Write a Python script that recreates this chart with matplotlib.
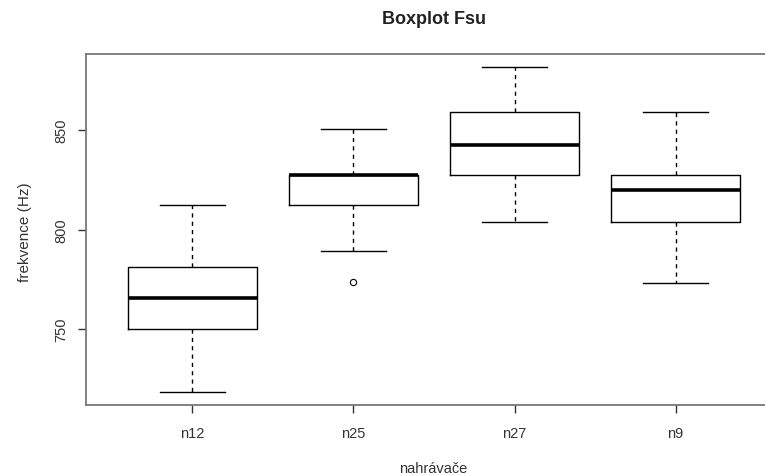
import matplotlib
matplotlib.use("Agg")
import matplotlib.pyplot as plt

plt.rcParams['font.family'] = ['Liberation Sans', 'DejaVu Sans']

categories = ["n12", "n25", "n27", "n9"]
whisker_low = [718.3, 789.1, 804.0, 773.3]
q1 = [750.2, 812.3, 827.7, 804.0]
median = [765.4, 827.7, 842.7, 819.7]
q3 = [781.1, 827.7, 859.0, 827.7]
whisker_high = [812.4, 850.7, 881.8, 859.0]
outliers = [[], [773.4], [], []]
yticks = [750, 800, 850]

W, H = 765, 477
fig = plt.figure(figsize=(W / 100, H / 100), dpi=100)
ax = fig.add_axes([86 / W, (H - 406) / H, (782 - 86) / W, (406 - 55) / H])

stats = []
for i, c in enumerate(categories):
    stats.append(dict(label=c, whislo=whisker_low[i], q1=q1[i], med=median[i],
                      q3=q3[i], whishi=whisker_high[i], fliers=outliers[i]))

ax.bxp(stats, positions=range(1, len(categories) + 1), widths=0.8,
       boxprops=dict(color="black", linewidth=1.0),
       medianprops=dict(color="black", linewidth=2.6, solid_capstyle="butt"),
       whiskerprops=dict(color="black", linewidth=1.0, linestyle=(0, (3, 3))),
       capprops=dict(color="black", linewidth=1.0),
       capwidths=0.4,
       flierprops=dict(marker="o", markersize=4.5, markerfacecolor="none",
                       markeredgecolor="black", markeredgewidth=0.8))

ax.set_xlim(0.34, 4.66)
ax.set_ylim(711.8, 888.3)
ax.set_yticks(yticks)
ax.set_yticklabels([str(v) for v in yticks], rotation=90, va="center")
ax.set_xticks(range(1, len(categories) + 1))
ax.set_xticklabels(categories)

for s in ax.spines.values():
    s.set_color("#777777")
    s.set_linewidth(1.3)

ax.tick_params(axis="both", direction="out", length=6, width=1.0, color="#333333",
               labelsize=10.5, labelcolor="#333333")
ax.tick_params(axis="x", pad=9)
ax.tick_params(axis="y", pad=7)

fig.text(434 / W, 1 - 20 / H, "Boxplot Fsu", ha="center", va="center",
         fontsize=13, fontweight="bold", color="#222222")
fig.text(433 / W, 1 - 469 / H, "nahrávače", ha="center", va="center",
         fontsize=10.5, color="#333333")
fig.text(25 / W, 1 - 232 / H, "frekvence (Hz)", ha="center", va="center",
         rotation=90, fontsize=11, color="#333333")

fig.savefig("out.png", dpi=100)
